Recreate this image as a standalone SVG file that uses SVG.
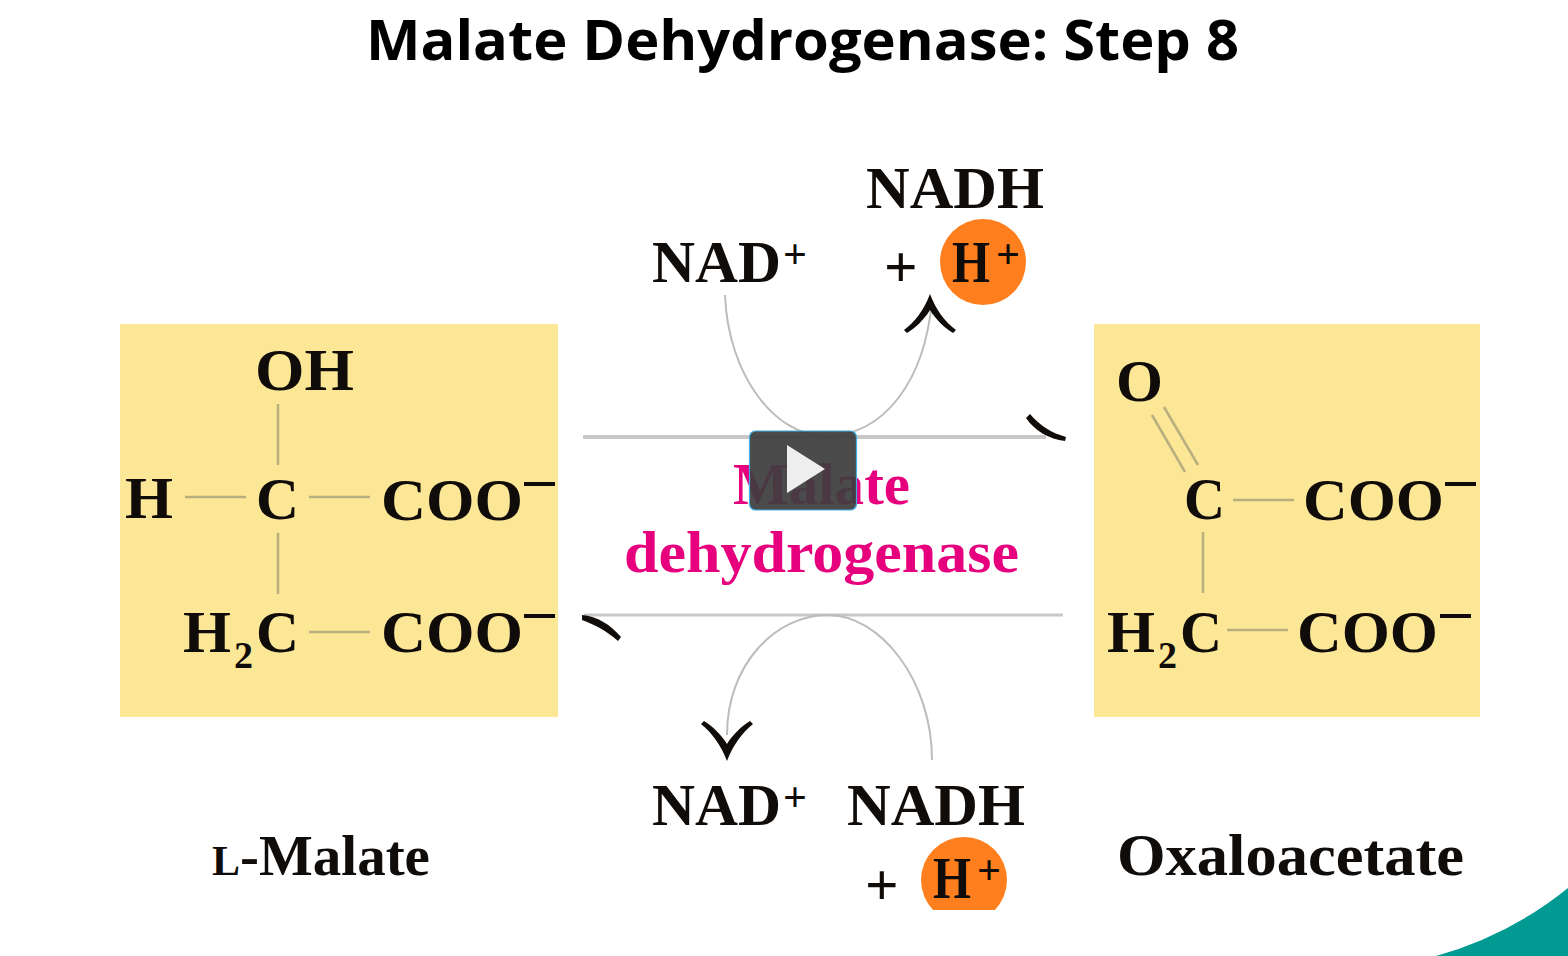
<svg xmlns="http://www.w3.org/2000/svg" width="1568" height="956" viewBox="0 0 1568 956">
<style>
.t{font-family:"Liberation Serif","Times New Roman",serif;font-weight:700;font-size:59px;fill:#100c0a}
.sup{font-size:42px}
.sub{font-size:38px}
.mn{fill:none;stroke:#100c0a;stroke-width:4}
.bond{stroke:#b9ae7e;stroke-width:2.5;fill:none}
.box{fill:#fce797}
.hp{fill:#ff7f1e}
.arc{fill:none;stroke:#bdbcb8;stroke-width:2}
.rail{stroke:#c9c7c7;fill:none}
.head{fill:#100c0a}
.pink{fill:#e6007e}
</style>
<defs>
<clipPath id="cut"><rect x="900" y="820" width="130" height="90"/></clipPath>
</defs>
<rect width="1568" height="956" fill="#fff"/>
<path id="corner" d="M1436,956 Q1510,935 1568,888 L1568,956 Z" fill="#009a93"/>
<text id="title" x="366" y="60" textLength="873" lengthAdjust="spacingAndGlyphs" style="font-family:'Open Sans','Noto Sans',sans-serif;font-weight:700;font-size:56px;fill:#000">Malate Dehydrogenase: Step 8</text>

<g id="malate">
<rect class="box" x="120" y="324" width="438" height="393"/>
<line class="bond" x1="278" y1="404" x2="278" y2="465"/>
<line class="bond" x1="278" y1="533" x2="278" y2="594"/>
<line class="bond" x1="185" y1="497" x2="246" y2="497"/>
<line class="bond" x1="309" y1="497" x2="370" y2="497"/>
<line class="bond" x1="309" y1="632" x2="370" y2="632"/>
<text class="t" x="255" y="390" textLength="99" lengthAdjust="spacingAndGlyphs">OH</text>
<text class="t" x="125" y="518" textLength="48" lengthAdjust="spacingAndGlyphs">H</text>
<text class="t" x="256" y="519" textLength="43" lengthAdjust="spacingAndGlyphs">C</text>
<text class="t" x="381" y="520" textLength="142" lengthAdjust="spacingAndGlyphs">COO</text>
<line class="mn" x1="524" y1="484" x2="555" y2="484"/>
<text class="t" x="183" y="652" textLength="48" lengthAdjust="spacingAndGlyphs">H</text>
<text class="t sub" x="234" y="668">2</text>
<text class="t" x="256" y="652" textLength="43" lengthAdjust="spacingAndGlyphs">C</text>
<text class="t" x="381" y="652" textLength="142" lengthAdjust="spacingAndGlyphs">COO</text>
<line class="mn" x1="524" y1="616" x2="555" y2="616"/>
</g>

<g id="oxaloacetate">
<rect class="box" x="1094" y="324" width="386" height="393"/>
<line class="bond" x1="1152" y1="415" x2="1185" y2="472"/>
<line class="bond" x1="1164" y1="407" x2="1198" y2="465"/>
<line class="bond" x1="1233" y1="500" x2="1294" y2="500"/>
<line class="bond" x1="1203" y1="532" x2="1203" y2="593"/>
<line class="bond" x1="1227" y1="630" x2="1288" y2="630"/>
<text class="t" x="1116" y="401" textLength="47" lengthAdjust="spacingAndGlyphs">O</text>
<text class="t" x="1184" y="519" textLength="41" lengthAdjust="spacingAndGlyphs">C</text>
<text class="t" x="1303" y="520" textLength="141" lengthAdjust="spacingAndGlyphs">COO</text>
<line class="mn" x1="1445" y1="484" x2="1476" y2="484"/>
<text class="t" x="1107" y="652" textLength="48" lengthAdjust="spacingAndGlyphs">H</text>
<text class="t sub" x="1158" y="668">2</text>
<text class="t" x="1180" y="652" textLength="42" lengthAdjust="spacingAndGlyphs">C</text>
<text class="t" x="1297" y="652" textLength="141" lengthAdjust="spacingAndGlyphs">COO</text>
<line class="mn" x1="1440" y1="616" x2="1471" y2="616"/>
</g>

<g id="connectors">
<line class="rail" x1="583" y1="437" x2="1046" y2="437" stroke-width="4"/>
<line class="rail" x1="584" y1="615" x2="1063" y2="615" stroke-width="3"/>
<path class="arc" d="M725,295 C728,375 775,436 825,436 C885,436 925,380 932,300"/>
<path class="arc" d="M932,760 C932,680 880,615 828,615 C775,615 727,665 727,735"/>
<path class="head" d="M1026,418 L1030,414 C1040,426 1052,433 1066,437 L1065,441 C1049,439 1035,431 1026,418 Z"/>
<path class="head" d="M582,615 C597,616 611,625 621,637 L618,641 C608,632 596,625 582,620 Z"/>
<path class="head" d="M930,294 C936,310 945,322 956,330 L953,333 C945,328 936,320 930,310 C924,320 915,328 907,333 L904,330 C915,322 924,310 930,294 Z"/>
<path class="head" d="M727,761 C721,745 712,733 701,724 L704,721 C712,726 721,734 727,744 C733,734 742,726 750,721 L753,724 C742,733 733,745 727,761 Z"/>
</g>

<g id="nad-top">
<text class="t" x="652" y="282" textLength="129" lengthAdjust="spacingAndGlyphs">NAD</text>
<text class="t sup" x="783" y="268">+</text>
</g>
<g id="nadh-top">
<text class="t" x="866" y="208" textLength="178" lengthAdjust="spacingAndGlyphs">NADH</text>
<text class="t" x="884" y="287">+</text>
</g>
<g id="proton-top">
<circle class="hp" cx="983" cy="262" r="43"/>
<text class="t" x="952" y="282" textLength="38" lengthAdjust="spacingAndGlyphs">H</text>
<text class="t sup" x="996" y="268">+</text>
</g>

<g id="enzyme">
<text class="t pink" x="733" y="504" textLength="177" lengthAdjust="spacingAndGlyphs">Malate</text>
<text class="t pink" x="624" y="572" textLength="395" lengthAdjust="spacingAndGlyphs">dehydrogenase</text>
</g>

<g id="nad-bottom">
<text class="t" x="652" y="825" textLength="129" lengthAdjust="spacingAndGlyphs">NAD</text>
<text class="t sup" x="783" y="811">+</text>
</g>
<g id="nadh-bottom">
<text class="t" x="847" y="825" textLength="178" lengthAdjust="spacingAndGlyphs">NADH</text>
<text class="t" x="865" y="905">+</text>
</g>
<g id="proton-bottom">
<circle class="hp" cx="964" cy="880" r="43" clip-path="url(#cut)"/>
<text class="t" x="933" y="898" textLength="38" lengthAdjust="spacingAndGlyphs">H</text>
<text class="t sup" x="977" y="884">+</text>
</g>

<g id="labels">
<text class="t" x="212" y="875"><tspan font-size="42">L</tspan><tspan font-size="57">-Malate</tspan></text>
<text class="t" x="1117" y="875" textLength="347" lengthAdjust="spacingAndGlyphs">Oxaloacetate</text>
</g>

<g id="play">
<rect x="749.5" y="431" width="107" height="79" rx="6" fill="#3d3d3d" fill-opacity=".93" stroke="#3fb0e8" stroke-width="1.2"/>
<path d="M787,445 L825,469 L787,493 Z" fill="#eeeeee"/>
</g>
</svg>
